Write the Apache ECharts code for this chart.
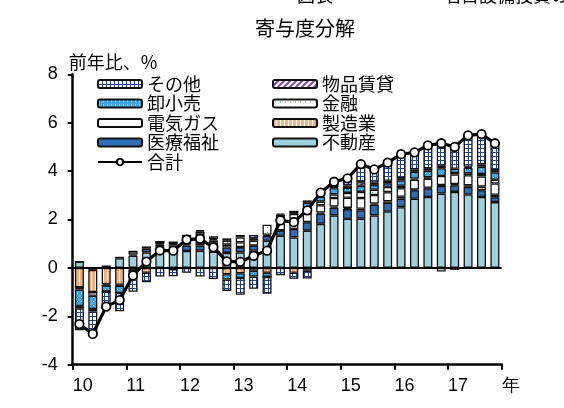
<!DOCTYPE html>
<html><head><meta charset="utf-8">
<script src="https://cdn.jsdelivr.net/npm/echarts@6/dist/echarts.min.js"></script>
<style>html,body{margin:0;padding:0;background:#fff}#c{width:564px;height:408px}</style>
</head><body><div id="c"></div>
<script>
const quarters = ['10Q1','10Q2','10Q3','10Q4','11Q1','11Q2','11Q3','11Q4','12Q1','12Q2','12Q3','12Q4','13Q1','13Q2','13Q3','13Q4','14Q1','14Q2','14Q3','14Q4','15Q1','15Q2','15Q3','15Q4','16Q1','16Q2','16Q3','16Q4','17Q1','17Q2','17Q3','17Q4'];
const yearLabels = ['10','11','12','13','14','15','16','17','年'];
const fudousan = [0.26,0,0,0.4,0.5,0.64,0.89,0.92,0.7,0.71,0.67,0.62,0.64,0.71,1.12,1.33,1.26,1.54,1.82,2.17,2.03,2.03,2.17,2.33,2.51,2.86,2.93,3.07,3.14,3.03,2.93,2.72];
const iryou = [0,-0.08,0.1,0.06,0.05,0.15,0.04,0.1,0.22,0.21,0.2,0.22,0.22,0.21,0.2,0.22,0.35,0.35,0.42,0.32,0.4,0.35,0.44,0.36,0.35,0.35,0.35,0.32,0.28,0.32,0.28,0.2];
const seizou = [-0.8,-0.92,-0.68,-0.7,-0.05,-0.2,0,0,0.05,0.1,0.05,-0.26,-0.22,-0.12,-0.2,0,-0.2,-0.12,0.05,0.05,0.05,0.06,0.05,0.06,0.08,0.03,0.03,0.03,0.04,0.06,0.15,0.1];
const denki = [0,0,-0.05,-0.04,0.13,0.06,0.05,0.04,0.15,0.15,0.12,0.12,0.2,0.2,0.05,0.3,0.42,0.35,0.3,0.35,0.42,0.45,0.35,0.38,0.35,0.4,0.38,0.38,0.4,0.42,0.42,0.47];
const kinyu = [-0.1,-0.15,0,0,0,0,0.1,0,0.05,0.24,0.1,0.16,0.2,0.1,0.41,0.25,0.2,0.25,0.15,0.15,0.2,0.25,0.22,0.22,0.1,0.05,0.05,-0.15,0.06,0.08,0.1,0.15];
const oroshi = [-0.68,-0.55,-0.25,-0.3,-0.08,0,0,-0.05,0.1,0.1,0.05,-0.22,-0.2,-0.24,-0.17,0.1,0.1,0.2,0.2,0.25,0.2,0.25,0.2,0.15,0.22,0.28,0.28,0.32,0.18,0.22,0.3,0.3];
const buppin = [-0.1,-0.1,0,0,0,0,0,0,0.1,0.05,0.12,0.1,0.1,0.14,0,0.05,0,0.1,0.05,0.05,0.1,0.15,0.1,0.1,0.1,0.1,0.1,0.1,-0.08,0.05,0.1,0.1];
const sonota = [-0.9,-0.93,-0.72,-0.75,-0.86,-0.39,-0.36,-0.3,-0.2,-0.36,-0.46,-0.47,-0.69,-0.5,-0.7,-0.3,-0.25,-0.32,0.12,0.22,0.3,0.75,0.54,0.75,0.99,0.7,0.94,1.08,0.98,1.3,1.25,1.11];
const goukei = [-2.32,-2.73,-1.6,-1.33,-0.31,0.26,0.72,0.71,1.17,1.2,0.85,0.27,0.25,0.5,0.71,1.96,1.89,2.38,3.11,3.56,3.7,4.29,4.07,4.35,4.7,4.77,5.06,5.15,5.0,5.48,5.53,5.15];

function pat(w, h, draw) {
  const c = document.createElement('canvas');
  c.width = w; c.height = h;
  const g = c.getContext('2d');
  draw(g, w, h);
  return { image: c, repeat: 'repeat' };
}
const pSonota = pat(4, 4, (g) => { g.fillStyle = '#22418c'; g.fillRect(0,0,4,4); g.fillStyle = '#ffffff'; g.fillRect(1,1,3,3); });
const pBuppin = pat(6, 6, (g) => { g.fillStyle = '#ffffff'; g.fillRect(0,0,6,6); g.strokeStyle = '#7a4fb0'; g.lineWidth = 2; g.beginPath(); g.moveTo(-1,7); g.lineTo(7,-1); g.moveTo(-1,1); g.lineTo(1,-1); g.moveTo(5,7); g.lineTo(7,5); g.stroke(); });
const pOroshi = pat(4, 4, (g) => { g.fillStyle = '#45a6e6'; g.fillRect(0,0,4,4); g.fillStyle = '#ffffff'; g.fillRect(1,1,1,1); });
const pKinyu = pat(5, 5, (g) => { g.fillStyle = '#ffffff'; g.fillRect(0,0,5,5); g.fillStyle = '#3cb55a'; g.fillRect(2,2,1,1); });
const pSeizou = pat(4, 4, (g) => { g.fillStyle = '#ffffff'; g.fillRect(0,0,4,4); g.fillStyle = '#f5b07e'; g.fillRect(0,0,3,4); });

const font = 'Liberation Sans, Arial, sans-serif';
const jfont = 'Noto Sans CJK JP, sans-serif';

const barDefs = [
  ['不動産', fudousan, '#9fd0dd'],
  ['医療福祉', iryou, '#2f6fb8'],
  ['製造業', seizou, pSeizou],
  ['電気ガス', denki, '#ffffff'],
  ['金融', kinyu, pKinyu],
  ['卸小売', oroshi, pOroshi],
  ['物品賃貸', buppin, pBuppin],
  ['その他', sonota, pSonota]
];
const series = barDefs.map(([name, data, color]) => ({
  name, type: 'bar', stack: 'all', barWidth: 9, data: data, xAxisIndex: 0,
  itemStyle: { color: color, borderColor: '#111', borderWidth: 1.3 },
  emphasis: { disabled: true }
}));
series.push({
  name: '合計', type: 'line', data: goukei, z: 5, xAxisIndex: 0,
  symbol: 'circle', symbolSize: 8.5, showSymbol: true,
  lineStyle: { color: '#000', width: 3.2 },
  itemStyle: { color: '#fff', borderColor: '#000', borderWidth: 1.8 },
  markLine: { silent: true, symbol: ['none', 'none'], label: { show: false },
    lineStyle: { color: '#000', width: 2, type: 'solid' }, data: [{ yAxis: 0 }] }
});

const chart = echarts.init(document.getElementById('c'), null, { renderer: 'canvas' });
chart.setOption({
  animation: false,
  backgroundColor: '#fff',
  title: { text: '寄与度分解', left: 255, top: 18, padding: 0,
    textStyle: { fontFamily: jfont, fontSize: 20, fontWeight: 'normal', color: '#000' } },
  graphic: [
    { type: 'text', left: 297, top: -14, style: { text: '図表', fontFamily: jfont, fontSize: 18, fill: '#000' } },
    { type: 'text', left: 443, top: -14, style: { text: '名目設備投資の推移', fontFamily: jfont, fontSize: 18, fill: '#000' } }
  ],
  legend: [
    { orient: 'vertical', left: 92, top: 70, itemWidth: 44, itemHeight: 8, itemGap: 1.5, itemTextGap: 5,
      data: ['その他', '卸小売', '電気ガス', '医療福祉', '合計'],
      textStyle: { fontFamily: jfont, fontSize: 18, lineHeight: 18, color: '#000' } },
    { orient: 'vertical', left: 267, top: 70, itemWidth: 44, itemHeight: 8, itemGap: 1.5, itemTextGap: 6,
      data: ['物品賃貸', '金融', '製造業', '不動産'],
      textStyle: { fontFamily: jfont, fontSize: 18, lineHeight: 18, color: '#000' } }
  ],
  grid: { left: 72.7, right: 62.4, top: 74.3, bottom: 43.3, containLabel: false },
  xAxis: [
    { type: 'category', data: quarters, boundaryGap: true, position: 'bottom',
      axisLine: { show: true, onZero: false, lineStyle: { color: '#000', width: 2.5 } },
      axisTick: { show: false }, axisLabel: { show: false }, splitLine: { show: false } },
    { type: 'value', min: 0, max: 32, interval: 4, position: 'bottom',
      axisLine: { show: false, onZero: false },
      axisTick: { show: true, length: 5, lineStyle: { color: '#000', width: 2 } },
      axisLabel: { formatter: (v) => yearLabels[v / 4], align: 'left', margin: 12,
        fontFamily: font, fontSize: 18, color: '#000' },
      splitLine: { show: false } }
  ],
  yAxis: {
    type: 'value', min: -4, max: 8, interval: 2,
    name: '前年比、%', nameLocation: 'end', nameGap: 3,
    nameTextStyle: { fontFamily: jfont, fontSize: 18, color: '#000', align: 'left', padding: [0, 0, 0, -4] },
    axisLine: { show: true, lineStyle: { color: '#000', width: 2.5 } },
    axisTick: { show: true, length: 5, lineStyle: { color: '#000', width: 2 } },
    axisLabel: { margin: 15, fontFamily: font, fontSize: 18, color: '#000' },
    splitLine: { show: false }
  },
  series
});
</script>
</body></html>
